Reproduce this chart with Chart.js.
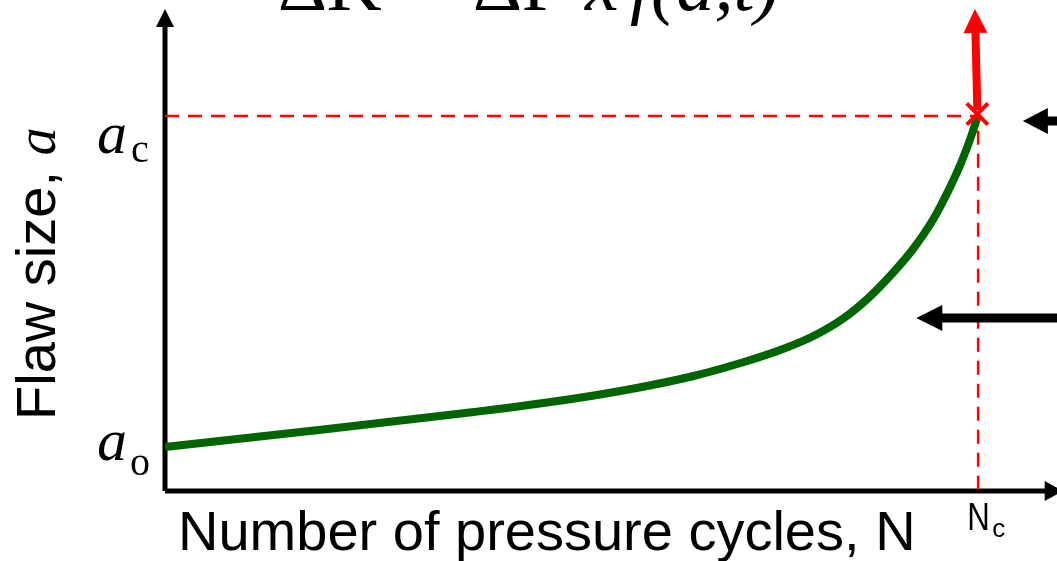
<!DOCTYPE html>
<html>
<head>
<meta charset="utf-8">
<script src="https://cdn.jsdelivr.net/npm/chart.js@4/dist/chart.umd.min.js"></script>
<style>
  html, body { margin: 0; padding: 0; background: #fff; }
  #wrap { width: 1057px; height: 561px; }
</style>
</head>
<body>
<div id="wrap"><canvas id="grafico" width="1057" height="561"></canvas></div>
<script>
// Datos (unidades arbitrarias)
const ciclosN = [0, 20, 38, 50, 58, 65, 71, 76, 80, 83.5, 86.5, 89.5, 92, 94.5, 96.5, 98, 99.2, 100];
const tamanoA = [44, 62, 79, 92, 103, 115, 128.5, 142, 156, 173, 193, 218, 242, 272, 303, 330, 356, 376];
const aO = 44;
const aC = 375;
const Nc = 100;
const xMax = 109.7;
const yMax = 491;

// flechas: [x inicio, y inicio, x punta, y punta]
const flechaRoja = [99.9, 381, 99.6, 482];
const flechaNegraArriba = [xMax, 370, 105.5, 370];
const flechaNegraAbajo = [xMax, 173, 92.4, 173];
const ejeY = [0, 0, 0, 482];
const ejeX = [0, 0, 110.4, 0];

const serif = '"Liberation Serif", "DejaVu Serif", serif';
const sans = '"Liberation Sans", Arial, sans-serif';

function flecha(chart, f, color, grosor, largo, ancho) {
    const ctx = chart.ctx;
    const xs = chart.scales.x, ys = chart.scales.y;
    const x1 = xs.getPixelForValue(f[0]), y1 = ys.getPixelForValue(f[1]);
    const x2 = xs.getPixelForValue(f[2]), y2 = ys.getPixelForValue(f[3]);
    const ang = Math.atan2(y2 - y1, x2 - x1);
    const bx = x2 - Math.cos(ang) * largo, by = y2 - Math.sin(ang) * largo;
    ctx.save();
    ctx.strokeStyle = color;
    ctx.fillStyle = color;
    ctx.lineWidth = grosor;
    ctx.beginPath();
    ctx.moveTo(x1, y1);
    ctx.lineTo(bx + Math.cos(ang) * 2, by + Math.sin(ang) * 2);
    ctx.stroke();
    ctx.beginPath();
    ctx.moveTo(x2, y2);
    ctx.lineTo(bx + Math.sin(ang) * ancho, by - Math.cos(ang) * ancho);
    ctx.lineTo(bx - Math.sin(ang) * ancho, by + Math.cos(ang) * ancho);
    ctx.closePath();
    ctx.fill();
    ctx.restore();
}

const ejesPlugin = {
    id: 'ejes',
    beforeDatasetsDraw(chart) {
        flecha(chart, ejeY, '#000', 5, 18, 9);
        flecha(chart, ejeX, '#000', 5, 18, 10);
    }
};

const textosPlugin = {
    id: 'textos',
    afterDatasetsDraw(chart) {
        const ctx = chart.ctx;
        const xs = chart.scales.x, ys = chart.scales.y;
        flecha(chart, flechaRoja, '#ff0000', 8, 24, 12);
        flecha(chart, flechaNegraArriba, '#000', 9, 25, 13);
        flecha(chart, flechaNegraAbajo, '#000', 9, 26, 13);

        ctx.save();
        ctx.fillStyle = '#000';
        ctx.textBaseline = 'alphabetic';
        ctx.textAlign = 'left';

        // formula (cortada arriba)
        ctx.font = '76px ' + serif;
        ctx.fillText('\u0394K', 278, 10);
        ctx.fillText('=', 403, 10);
        ctx.fillText('\u0394P', 473, 10);
        ctx.font = 'italic 76px ' + serif;
        ctx.fillText('x', 585, 10);
        ctx.fillText('f(a,t)', 630, 10);

        // a_c y a_o
        const yc = ys.getPixelForValue(aC);
        const yo = ys.getPixelForValue(aO);
        ctx.font = 'italic 60px ' + serif;
        ctx.fillText('a', 97, yc + 37);
        ctx.fillText('a', 97, yo + 13);
        ctx.font = '40px ' + serif;
        ctx.fillText('c', 131, yc + 46);
        ctx.fillText('o', 130, yo + 28);

        // N_c
        const xn = xs.getPixelForValue(Nc);
        ctx.save();
        ctx.translate(xn - 11, 530);
        ctx.scale(0.82, 1);
        ctx.font = '38px ' + sans;
        ctx.fillText('N', 0, 0);
        ctx.restore();
        ctx.font = '26px ' + sans;
        ctx.fillText('c', xn + 14, 537);

        // titulo eje x
        ctx.font = '56px ' + sans;
        ctx.fillText('Number of pressure cycles, N', 178, 550);

        // titulo eje y
        ctx.translate(55, 420);
        ctx.rotate(-Math.PI / 2);
        ctx.font = '56px ' + sans;
        const t = 'Flaw size, ';
        ctx.fillText(t, 0, 0);
        const w = ctx.measureText(t).width;
        ctx.font = 'italic 56px ' + serif;
        ctx.fillText('a', w, 0);
        ctx.restore();
    }
};

const ctx = document.getElementById('grafico').getContext('2d');
new Chart(ctx, {
    type: 'line',
    data: {
        datasets: [{
            label: 'critico',
            data: [{ x: 0, y: aC }, { x: Nc, y: aC }, { x: Nc, y: 0 }],
            borderColor: '#ff0000',
            borderWidth: 2.5,
            borderDash: [14, 9],
            pointRadius: 0,
            tension: 0,
            clip: false,
            order: 0
        }, {
            label: 'marca',
            data: [{ x: Nc - 0.1, y: aC + 2 }],
            showLine: false,
            pointStyle: 'crossRot',
            pointRadius: 15,
            pointBorderWidth: 4,
            borderColor: '#ff0000',
            pointBorderColor: '#ff0000',
            clip: false,
            order: 0
        }, {
            label: 'crecimiento',
            data: ciclosN.map((n, i) => ({ x: n, y: tamanoA[i] })),
            borderColor: '#006400',
            borderWidth: 8,
            pointRadius: 0,
            cubicInterpolationMode: 'monotone',
            clip: false,
            order: 1
        }]
    },
    options: {
        responsive: false,
        animation: false,
        layout: { autoPadding: false, padding: { left: 165, right: 0, top: 0, bottom: 70 } },
        plugins: {
            legend: { display: false },
            tooltip: { enabled: false }
        },
        scales: {
            x: { type: 'linear', min: 0, max: xMax, display: false },
            y: { type: 'linear', min: 0, max: yMax, display: false }
        }
    },
    plugins: [ejesPlugin, textosPlugin]
});
</script>
</body>
</html>
